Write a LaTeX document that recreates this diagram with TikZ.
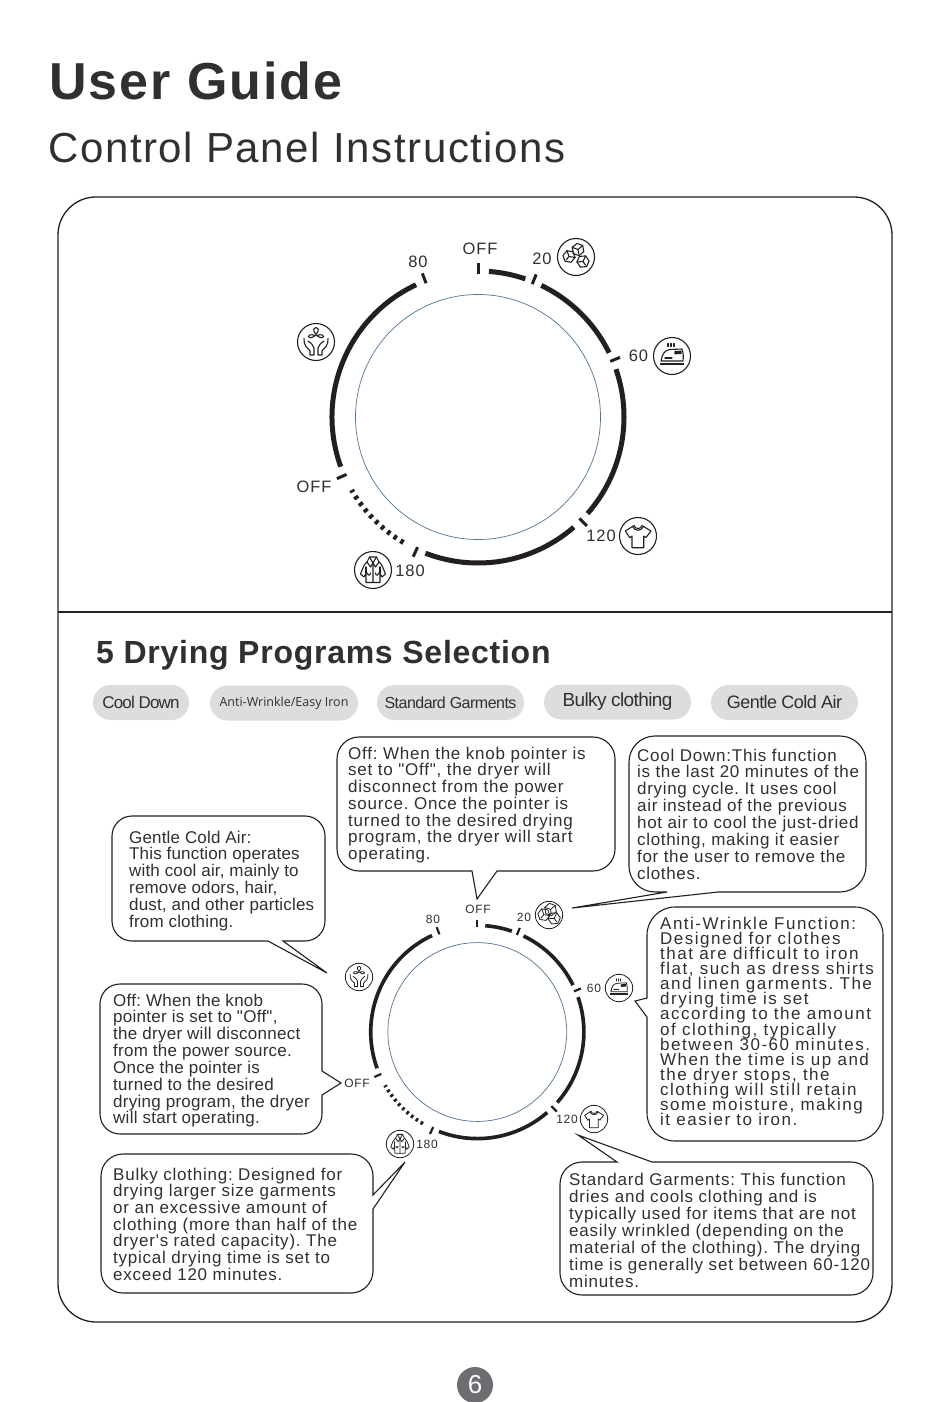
\documentclass[tikz,border=0pt]{standalone}
\usepackage{fontspec}
\setmainfont{Liberation Sans}
\newfontfamily\lsB[LetterSpace=4.5]{Liberation Sans}
\newfontfamily\lsF[LetterSpace=4]{Liberation Sans}
\newfontfamily\lsC[LetterSpace=1.6]{Liberation Sans}
\newfontfamily\lsD[LetterSpace=1]{Liberation Sans}
\newfontfamily\lsA[LetterSpace=8.8]{Liberation Sans}
\newfontfamily\lsE[LetterSpace=4.7]{Liberation Sans}
\newfontfamily\lsTitle[LetterSpace=3.8,BoldFont={Liberation Sans Bold}]{Liberation Sans}
\newfontfamily\lsHead[LetterSpace=2.3,BoldFont={Liberation Sans Bold}]{Liberation Sans}
\newfontfamily\lsSub[LetterSpace=3.8]{Liberation Sans}
\newfontfamily\lsPill[LetterSpace=-3.2]{Liberation Sans}
\newfontfamily\lsPillN[LetterSpace=-5]{Liberation Sans}
\newfontfamily\lsLab[LetterSpace=6]{Liberation Sans}
\newfontfamily\opensans{Open Sans}
\definecolor{ink}{HTML}{231F20}
\definecolor{txt}{HTML}{303032}
\definecolor{pillgrey}{HTML}{DCDDDD}
\definecolor{ringblue}{HTML}{4F7394}
\definecolor{pagegrey}{HTML}{6D6E71}
\newcommand{\dial}[3]{% cx, cy, scale
\begin{scope}[shift={(#1,#2)},scale=#3,ink]
\draw[line width=#3*5pt] (-85.7:146) arc[start angle=-85.7,end angle=-71.1,radius=146];
\draw[line width=#3*5pt] (-64.3:146) arc[start angle=-64.3,end angle=-26.1,radius=146];
\draw[line width=#3*5pt] (-19.1:146) arc[start angle=-19.1,end angle=41.4,radius=146];
\draw[line width=#3*5pt] (49:146) arc[start angle=49,end angle=111.1,radius=146];
\draw[line width=#3*5pt] (160.1:146) arc[start angle=160.1,end angle=244.9,radius=146];
\draw[line width=#3*5pt,dash pattern=on #3*3.5pt off #3*4.5pt] (120.7:146) arc[start angle=120.7,end angle=150,radius=146];
\foreach \a in {-90,-67.8,-22.8,45,114.9,156.4,248.8}
  \draw[line width=#3*3pt] (\a:143.5) -- (\a:154);
\draw[ringblue,line width=.7pt] (0,0) circle[radius=122.5];
\end{scope}}
\tikzset{
 bubble/.style={draw=ink,line width=1.1pt,fill=white},
 btext/.style={anchor=north west,inner sep=0pt,align=left,text=txt,
   execute at begin node={\lineskiplimit=-1000pt\frenchspacing}},
 pill/.style={fill=pillgrey,rounded corners=17.5pt,minimum height=35pt,inner sep=0pt,text=txt},
 dlabel/.style={inner sep=0pt,text=txt},
 ic/.style={line width=#1,draw=ink,line join=round,line cap=round},
 cube/.pic={
  \draw (0,-6.2) -- (5.3,-3.1) -- (5.3,3.1) -- (0,6.2) -- (-5.3,3.1) -- (-5.3,-3.1) -- cycle;
  \draw (0,0) -- (-5.3,-3.1) (0,0) -- (5.3,-3.1) (0,0) -- (0,4.4);
 },
 iconcubes/.pic={
  \draw (0,0) circle[radius=18.5];
  \pic[rotate=10] at (2,-7.5) {cube};
  \pic[rotate=-40] at (-7,-.5) {cube};
  \pic[rotate=35] at (7,4.5) {cube};
 },
 iconiron/.pic={
  \draw (0,0) circle[radius=18.5];
  \draw (-4,-12.5) -- (-4,-9.5) (-1,-12.5) -- (-1,-9.5) (2,-12.5) -- (2,-9.5);
  \draw (-11,5) .. controls (-10,-2) and (-7,-6) .. (-2,-6.5) -- (10,-7) .. controls (11.5,-3) and (11.5,1) .. (11,5) -- cycle;
  \fill[ink] (-12,6.5) rectangle (12,9);
  \draw[fill=ink] (3,-4.5) -- (9,-4.8) -- (9,-2.5) -- (3,-2.2) -- cycle;
  \draw (-7,2) -- (0,2);
 },
 iconfan/.pic={
  \draw (0,0) circle[radius=18.5];
  \draw (0,-7.5) .. controls (-8,-17) and (8,-17) .. (0,-7.5);
  \draw (-.6,-6.5) .. controls (-11,-10) and (-9,0) .. (-.6,-6.5);
  \draw (.6,-6.5) .. controls (11,-10) and (9,0) .. (.6,-6.5);
  \draw (-12,-3.5) .. controls (-12.5,3) and (-9,6) .. (-6,8.5) -- (-6,13) -- (-2,13) -- (-2,6) .. controls (-2.5,3.5) and (-5,1) .. (-8,-1);
  \draw (12,-3.5) .. controls (12.5,3) and (9,6) .. (6,8.5) -- (6,13) -- (2,13) -- (2,6) .. controls (2.5,3.5) and (5,1) .. (8,-1);
 },
 iconcoat/.pic={
  \draw (0,0) circle[radius=18.5];
  \draw (-3.5,-13) -- (3.5,-13) -- (6,-8) .. controls (9,-6) and (10,-2) .. (12.5,4) -- (9,7) -- (7,3) -- (7,12.5) -- (-7,12.5) -- (-7,3) -- (-9,7) -- (-12.5,4) .. controls (-10,-2) and (-9,-6) .. (-6,-8) -- cycle;
  \draw (-3.5,-13) -- (0,-7) -- (3.5,-13) (0,-7) -- (0,12.5);
  \draw (-6,-8) -- (-2.5,-3) -- (0,-7) (6,-8) -- (2.5,-3) -- (0,-7);
  \draw (-7,3) -- (-7,-3) (7,3) -- (7,-3);
  \draw (-5.5,3) .. controls (-5.5,6) and (-2.5,6) .. (-2.5,3) (5.5,3) .. controls (5.5,6) and (2.5,6) .. (2.5,3);
 },
 iconshirt/.pic={
  \draw (0,0) circle[radius=18.5];
  \draw (-4,-10.5) .. controls (-3,-6.5) and (3,-6.5) .. (4,-10.5) -- (13,-5) -- (8,1.5) -- (5.7,0) -- (5.7,11.7) -- (-6,11.7) -- (-6,0) -- (-8.3,1.7) -- (-12.7,-5) -- cycle;
  \draw (-5.5,-9.5) .. controls (-3,-4.5) and (3,-4.5) .. (5.5,-9.5);
 },
}
\begin{document}
\begin{tikzpicture}[x=1pt,y=-1pt]
\useasboundingbox (0,0) rectangle (950,1402);
\fill[white] (0,0) rectangle (950,1402);

\node[anchor=base west,inner sep=0pt,text=txt,font=\fontsize{52}{52}\lsTitle\bfseries] (title) at (49,100) {User Guide};
\node[anchor=base west,inner sep=0pt,text=txt,font=\fontsize{42}{42}\lsSub] (subtitle) at (48,162.5) {Control Panel Instructions};

\draw[ink,line width=1.3pt,rounded corners=38pt] (58,197) rectangle (892,1322);
\draw[ink,line width=1.3pt] (58,612) -- (892,612);

% upper dial
\dial{478}{417}{1}
\tikzset{dl/.style={dlabel,font=\fontsize{16.5}{16.5}\lsLab}}
\node[dl] (uoff) at (480,249) {OFF};
\node[dl] (u80) at (418,262) {80};
\node[dl] (u20) at (542,259) {20};
\node[dl] (u60) at (638.5,356) {60};
\node[dl] (u120) at (601,536) {120};
\node[dl] (u180) at (410,570.5) {180};
\node[dl] (uoff2) at (314,487) {OFF};
\begin{scope}[ic=1.1pt]
\pic at (576,257) {iconcubes};
\pic at (672,356) {iconiron};
\pic at (316,342) {iconfan};
\pic at (373,570) {iconcoat};
\pic at (638,536) {iconshirt};
\end{scope}

% heading
\node[anchor=base west,inner sep=0pt,text=txt,font=\fontsize{32}{32}\lsHead\bfseries] (heading) at (96,663) {5 Drying Programs Selection};

% pills
\node[pill,minimum width=96pt,font=\fontsize{17}{17}\lsPillN] (p1) at (141,702.5) {Cool Down};
\node[pill,minimum width=148pt,font=\fontsize{12.5}{12.5}\opensans] (p2) at (284,703) {Anti-Wrinkle/Easy Iron};
\node[pill,minimum width=147pt,font=\fontsize{16}{16}\lsPill] (p3) at (450.5,702.5) {Standard Garments};
\node[pill,minimum width=147pt,font=\fontsize{19}{19}\lsPill] (p4) at (617.5,702) {Bulky clothing};
\node[pill,minimum width=147pt,font=\fontsize{18}{18}\lsPill] (p5) at (784.5,702.5) {Gentle Cold Air};

% lower dial
\dial{477.3}{1032}{0.73}
\tikzset{dm/.style={dlabel,font=\fontsize{12}{12}\lsLab}}
\node[dm] (loff) at (478,909) {OFF};
\node[dm] (l80) at (433,919) {80};
\node[dm] (l20) at (524,917) {20};
\node[dm] (l60) at (594,988) {60};
\node[dm] (l120) at (567,1119) {120};
\node[dm] (l180) at (427,1144) {180};
\node[dm] (loff2) at (357,1083) {OFF};
\begin{scope}[ic=.8pt]
\pic[scale=.74] at (549,915) {iconcubes};
\pic[scale=.74] at (619,988) {iconiron};
\pic[scale=.74] at (359,977) {iconfan};
\pic[scale=.74] at (400,1144) {iconcoat};
\pic[scale=.74] at (594,1119) {iconshirt};
\end{scope}

% bubbles
\draw[bubble] (470,737) [rounded corners=22pt] -- (615,737) -- (615,871) [sharp corners] -- (497,871) -- (477,899) -- (472,871) [rounded corners=22pt] -- (337,871) -- (337,737) -- cycle;
\node[btext,font=\fontsize{17}{16.75}\lsB] (toff) at (348,746.5) {Off: When the knob pointer is\\set to "Off", the dryer will\\disconnect from the power\\source. Once the pointer is\\turned to the desired drying\\program, the dryer will start\\operating.};

\draw[bubble] (750,736) [rounded corners=26pt] -- (866,736) -- (866,892) [sharp corners] -- (718,892) -- (572,908) -- (667,892) [rounded corners=26pt] -- (629,892) -- (629,736) -- cycle;
\node[btext,font=\fontsize{17}{16.9}\lsF] (tcool) at (637,748.5) {{\lsB Cool Down:This function}\\is the last 20 minutes of the\\drying cycle. It uses cool\\air instead of the previous\\hot air to cool the just-dried\\clothing, making it easier\\for the user to remove the\\clothes.};

\draw[bubble] (220,816) [rounded corners=20pt] -- (325,816) -- (325,941) [sharp corners] -- (283,941) -- (327,973) -- (268,941) [rounded corners=20pt] -- (112,941) -- (112,816) -- cycle;
\node[btext,font=\fontsize{17}{16.8}\lsD] (tgentle) at (129,830.5) {Gentle Cold Air:\\This function operates\\with cool air, mainly to\\remove odors, hair,\\dust, and other particles\\from clothing.};

\draw[bubble] (210,984) [rounded corners=20pt] -- (322,984) [sharp corners] -- (322,1071) -- (341,1083) -- (322,1095) [rounded corners=20pt] -- (322,1134) -- (100,1134) -- (100,984) -- cycle;
\node[btext,font=\fontsize{17}{16.85}\lsC] (toff2) at (113,993.5) {Off: When the knob\\pointer is set to "Off",\\the dryer will disconnect\\from the power source.\\Once the pointer is\\turned to the desired\\drying program, the dryer\\will start operating.};

\draw[bubble] (230,1154) [rounded corners=22pt] -- (373,1154) [sharp corners] -- (373,1195) -- (405,1162) -- (373,1209) [rounded corners=22pt] -- (373,1293) -- (101,1293) -- (101,1154) -- cycle;
\node[btext,font=\fontsize{17}{16.7}\lsB] (tbulky) at (113,1167.5) {Bulky clothing: Designed for\\drying larger size garments\\or an excessive amount of\\clothing (more than half of the\\dryer's rated capacity). The\\typical drying time is set to\\exceed 120 minutes.};

\draw[bubble] (760,907) [rounded corners=28pt] -- (883,907) -- (883,1141) -- (647,1141) [sharp corners] -- (647,1017) -- (635,1001) -- (647,998) [rounded corners=28pt] -- (647,907) -- cycle;
\node[btext,font=\fontsize{17}{15.15}\lsA] (tanti) at (660,916.5) {Anti-Wrinkle Function:\\Designed for clothes\\that are difficult to iron\\flat, such as dress shirts\\and linen garments. The\\drying time is set\\according to the amount\\of clothing, typically\\between 30-60 minutes.\\When the time is up and\\the dryer stops, the\\clothing will still retain\\some moisture, making\\it easier to iron.};

\draw[bubble] (760,1162) [rounded corners=22pt] -- (873,1162) -- (873,1295) -- (560,1295) -- (560,1162) [sharp corners] -- (617,1162) -- (578,1135) -- (652,1162) [rounded corners=22pt] -- cycle;
\node[btext,font=\fontsize{17}{17}\lsE] (tstd) at (569,1172.5) {Standard Garments: This function\\dries and cools clothing and is\\typically used for items that are not\\easily wrinkled (depending on the\\material of the clothing). The drying\\time is generally set between 60-120\\minutes.};

% page number
\node[circle,fill=pagegrey,minimum size=36pt,inner sep=0pt,text=white,font=\fontsize{26}{26}\selectfont] (page) at (475,1385) {6};
\end{tikzpicture}
\end{document}
